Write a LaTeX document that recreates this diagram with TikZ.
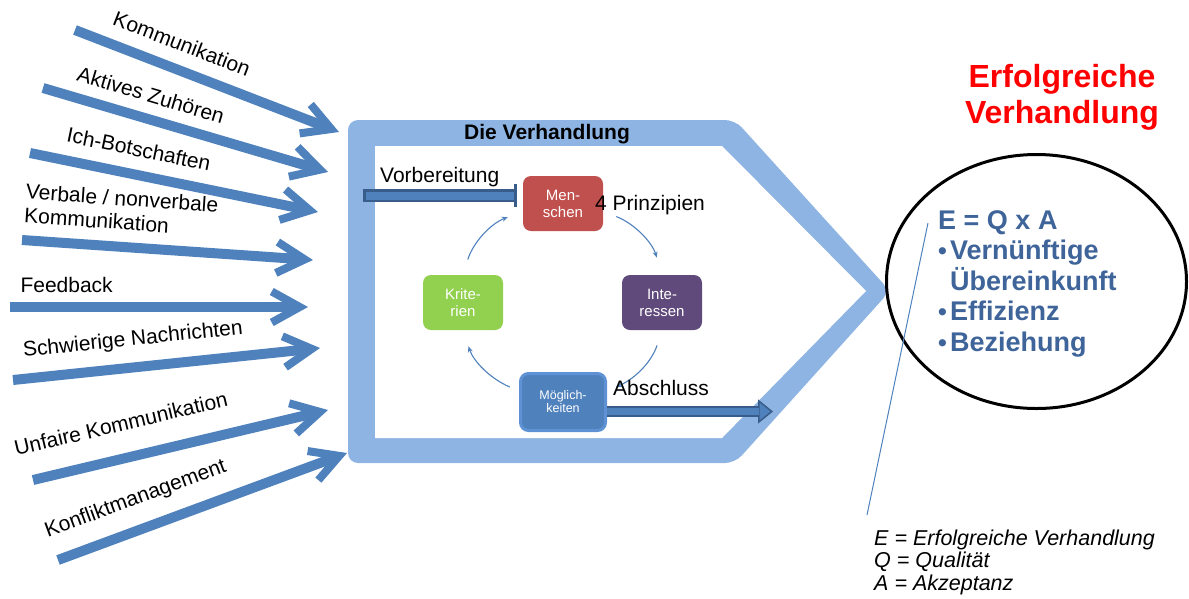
\documentclass[tikz,border=0pt]{standalone}
\usepackage{fontspec}
\setmainfont{Liberation Sans}
\usetikzlibrary{arrows.meta,shapes.geometric}
\definecolor{pfeilblau}{HTML}{4F81BD}
\definecolor{rahmenblau}{HTML}{8EB4E3}
\definecolor{dunkelblau}{HTML}{385D8A}
\definecolor{menrot}{HTML}{C0504D}
\definecolor{intlila}{HTML}{604A7B}
\definecolor{krigruen}{HTML}{92D050}
\definecolor{moerand}{HTML}{5E92D4}
\definecolor{textblau}{HTML}{3E6499}
\newcommand{\punkt}{\makebox[12pt][l]{\fontsize{25}{20}\selectfont •}}

\begin{document}
\begin{tikzpicture}[x=1pt,y=1pt,
  inpfeil/.style={line width=10pt,draw=pfeilblau,-{Straight Barb[length=28pt,width=31pt,line width=8pt]}},
  lbl/.style={font=\fontsize{21}{24}\selectfont,sloped,inner sep=0pt},
  txt/.style={font=\fontsize{21}{24}\selectfont,inner sep=0pt,anchor=base west},
  prinzip/.style={rounded corners=8pt,minimum width=80pt,minimum height=55pt,inner sep=0pt,
    text=white,align=center,font=\fontsize{15}{17}\selectfont},
  kreis/.style={draw=pfeilblau,line width=1.1pt,-{Stealth[length=6pt,width=5pt]}}]
\useasboundingbox (0,0) rectangle (1189,-598);

% Rahmen
\fill[rahmenblau,rounded corners=10pt] (348,-120) -- (735,-120) -- (890,-291) -- (735,-463) -- (348,-463) -- cycle;
\fill[white] (375,-146) -- (722,-146) -- (866,-291) -- (722,-438) -- (375,-438) -- cycle;
\node[font=\bfseries\fontsize{21}{24}\selectfont,anchor=base] (titel) at (547,-139) {Die Verhandlung};

% Pfeile links
\coordinate (S1) at (75,-30);   \coordinate (T1) at (339,-132);
\coordinate (S2) at (43,-88);   \coordinate (T2) at (328,-172);
\coordinate (S3) at (30,-153);  \coordinate (T3) at (318,-212);
\coordinate (S4) at (22,-240);  \coordinate (T4) at (313,-260);
\coordinate (S5) at (10,-307);  \coordinate (T5) at (308,-307);
\coordinate (S6) at (13,-380);  \coordinate (T6) at (320,-348);
\coordinate (S7) at (33,-480);  \coordinate (T7) at (328,-410);
\coordinate (S8) at (58,-560);  \coordinate (T8) at (347,-453);
\draw[inpfeil] (S1) -- (T1) node[lbl,above=13pt,pos=0.37] (L1) {Kommunikation};
\draw[inpfeil] (S2) -- (T2) node[lbl,above=11pt,pos=0.355] (L2) {Aktives Zuhören};
\draw[inpfeil] (S3) -- (T3) node[lbl,above=13pt,pos=0.36] (L3) {Ich-Botschaften};
\draw[inpfeil] (S4) -- (T4) node[lbl,above=12pt,pos=0.333,align=left] (L4) {Verbale / nonverbale\\Kommunikation};
\draw[inpfeil] (S5) -- (T5) node[lbl,above=9pt,pos=0.19] (L5) {Feedback};
\draw[inpfeil] (S6) -- (T6) node[lbl,above=12.5pt,pos=0.40] (L6) {Schwierige Nachrichten};
\draw[inpfeil] (S7) -- (T7) node[lbl,above=22pt,pos=0.325] (L7) {Unfaire Kommunikation};
\draw[inpfeil] (S8) -- (T8) node[lbl,above=15pt,pos=0.305] (L8) {Konfliktmanagement};

% 4 Prinzipien
\node[prinzip,fill=menrot] (men) at (563,-203.5) {Men-\\schen};
\node[prinzip,fill=intlila] (int) at (662,-302.5) {Inte-\\ressen};
\node[prinzip,fill=krigruen] (kri) at (463,-302.5) {Krite-\\rien};
\node[prinzip,fill=pfeilblau,draw=moerand,line width=3pt,minimum width=85pt,minimum height=57pt,
  font=\fontsize{12.5}{13}\selectfont] (moe) at (563,-402) {Möglich-\\keiten};
\draw[kreis,shorten <=14pt,shorten >=18pt] ([yshift=-8pt]men.east) to[bend left=26] (int.north);
\draw[kreis,shorten <=16pt,shorten >=10pt] (int.south) to[bend left=24] ([yshift=11pt]moe.east);
\draw[kreis,shorten <=10pt,shorten >=17pt] ([yshift=11pt]moe.west) to[bend left=24] (kri.south);
\draw[kreis,shorten <=16pt,shorten >=16pt] (kri.north) to[bend left=26] ([yshift=-8pt]men.west);

% Vorbereitung / Abschluss
\coordinate (VB) at (363,-195.5);
\draw[dunkelblau,line width=13pt,shorten >=6pt,-{Bar[width=23pt,line width=3pt]}] (VB) -- ([yshift=8pt]men.west);
\draw[pfeilblau,line width=8pt,shorten <=2.5pt,shorten >=9pt] (VB) -- ([yshift=8pt]men.west);
\node[txt] (vorb) at (380,-182) {Vorbereitung};
\node[txt] (prinz) at (595,-210) {4 Prinzipien};
\coordinate (AB) at (773,-411.5);
\draw[dunkelblau,line width=11pt,-{Triangle[length=15pt,width=24pt,line width=1.5pt,fill=pfeilblau]}] ([yshift=-9.5pt]moe.east) -- (AB);
\draw[pfeilblau,line width=7.5pt,shorten >=14pt] ([yshift=-9.5pt]moe.east) -- (AB);
\node[txt] (absch) at (613,-395) {Abschluss};

% Ergebnis
\node[align=center,text=red,inner sep=0pt,font=\bfseries\fontsize{32}{36}\selectfont] (erfolg) at (1062,-97) {Erfolgreiche\\Verhandlung};
\node[draw,ellipse,line width=3pt,minimum width=300pt,minimum height=254pt,inner sep=0pt] (ziel) at (1036.5,-281.5) {};
\node[anchor=north west,inner sep=0pt,align=left,text=textblau,font=\bfseries\fontsize{27}{30.5}\selectfont] (formel) at (938,-210.3)
  {E = Q x A\\\punkt Vernünftige\\\hspace*{12pt}Übereinkunft\\\punkt Effizienz\\\punkt Beziehung};
\coordinate (F1) at (928,-223);
\coordinate (F2) at (867,-515);
\draw[pfeilblau,line width=1pt] (F1) -- (F2);
\node[anchor=north west,inner sep=0pt,align=left,font=\itshape\fontsize{21.5}{22.7}\selectfont] (legende) at (874,-529.3)
  {E = Erfolgreiche Verhandlung\\Q = Qualität\\A = Akzeptanz};
\end{tikzpicture}
\end{document}
